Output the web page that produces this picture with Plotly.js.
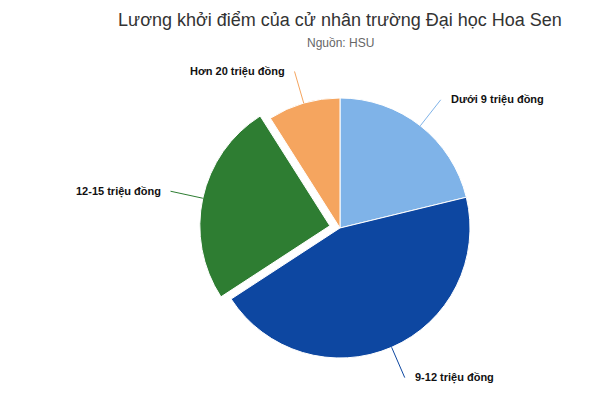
<!DOCTYPE html>
<html>
<head>
<meta charset="utf-8">
<script src="https://cdn.plot.ly/plotly-3.0.1.min.js"></script>
<style>
  html, body { margin: 0; padding: 0; background: #fff; }
  #chart { width: 612px; height: 404px; }
</style>
</head>
<body>
<div id="chart"></div>
<script>
// Dữ liệu (%)
const nhomLuong = ['Dưới 9 triệu đồng', '9-12 triệu đồng', '12-15 triệu đồng', 'Hơn 20 triệu đồng'];
const tyLe = [21.2, 44.6, 25.2, 9.0];
const mauSac = ['#7FB3E8', '#0D47A1', '#2E7D32', '#F5A55F'];
const doTach = [0, 0, 0.08, 0];

const W = 612, H = 404;
const domX = [0.3261, 0.7850];
const domY = [0.0881, 0.7832];

// tâm và bán kính giống cách Plotly tính
const cx = (domX[0] + domX[1]) / 2 * W;
const cy = H - (domY[0] + domY[1]) / 2 * H;
const maxPull = Math.max(...doTach);
const r = Math.min((domX[1] - domX[0]) * W, (domY[1] - domY[0]) * H) / (2 + 2 * maxPull);

const tong = tyLe.reduce((a, b) => a + b, 0);
const chuThich = [];
let goc = 0;
tyLe.forEach((v, i) => {
  const giua = (goc + v / 2) / tong * 2 * Math.PI;
  goc += v;
  const rr = r * (1 + doTach[i]);
  const px = cx + rr * Math.sin(giua);
  const py = cy - rr * Math.cos(giua);
  const phai = Math.sin(giua) >= 0;
  chuThich.push({
    x: px / W,
    y: 1 - py / H,
    xref: 'paper',
    yref: 'paper',
    text: '<b>' + nhomLuong[i] + '</b>',
    showarrow: true,
    arrowhead: 0,
    arrowwidth: 1,
    arrowcolor: mauSac[i],
    ax: 33 * Math.sin(giua),
    ay: -33 * Math.cos(giua),
    xanchor: phai ? 'left' : 'right',
    yanchor: 'middle',
    borderpad: 9,
    font: { family: 'Arial, "Liberation Sans", sans-serif', size: 11, color: '#111' }
  });
});

chuThich.push({
  x: 340 / W,
  y: 1 - 43 / H,
  xref: 'paper',
  yref: 'paper',
  text: 'Nguồn: HSU',
  showarrow: false,
  xanchor: 'center',
  yanchor: 'middle',
  font: { family: 'Arial, "Liberation Sans", sans-serif', size: 12, color: '#666' }
});

const trace = {
  type: 'pie',
  labels: nhomLuong,
  values: tyLe,
  sort: false,
  direction: 'clockwise',
  rotation: 0,
  pull: doTach,
  marker: { colors: mauSac, line: { color: '#fff', width: 1 } },
  textinfo: 'none',
  hoverinfo: 'label+percent',
  domain: { x: domX, y: domY },
  showlegend: false
};

const layout = {
  width: W,
  height: H,
  title: {
    text: 'Lương khởi điểm của cử nhân trường Đại học Hoa Sen',
    font: { family: 'Arial, "Liberation Sans", sans-serif', size: 18, color: '#333' },
    x: 340 / W,
    xanchor: 'center',
    y: 1 - 20 / H,
    yanchor: 'middle'
  },
  margin: { t: 0, l: 0, r: 0, b: 0 },
  paper_bgcolor: '#fff',
  annotations: chuThich
};

Plotly.newPlot('chart', [trace], layout, { displayModeBar: false, staticPlot: true });
</script>
</body>
</html>
